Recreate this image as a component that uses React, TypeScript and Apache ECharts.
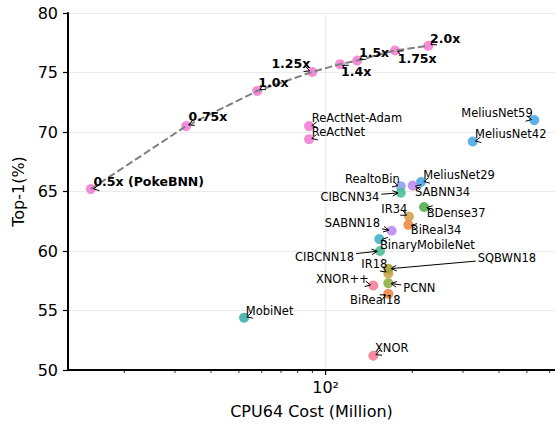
import React, { useEffect, useRef } from "react";
import * as echarts from "echarts";

// ---------------- data ----------------
const pokeLabels = ["0.5x (PokeBNN)", "0.75x", "1.0x", "1.25x", "1.4x", "1.5x", "1.75x", "2.0x"];
const pokeCost = [15.3, 32.8, 57.9, 89.9, 112.2, 128.8, 174.2, 227.3];
const pokeTop1 = [65.2, 70.5, 73.45, 75.05, 75.7, 76.0, 76.85, 77.25];

const otherNames = [
  "ReActNet-Adam", "ReActNet", "MeliusNet59", "MeliusNet42", "MeliusNet29", "RealtoBin",
  "SABNN34", "CIBCNN34", "BDense37", "IR34", "BiReal34", "SABNN18", "BinaryMobileNet",
  "CIBCNN18", "IR18", "SQBWN18", "XNOR++", "PCNN", "BiReal18", "XNOR", "MobiNet",
];
const otherCost = [
  87.6, 87.6, 530.6, 324.2, 214.5, 182.4,
  200.6, 182.4, 219.6, 194.8, 193.8, 169.6, 153.6,
  154.5, 165.1, 165.1, 146.4, 165.1, 165.1, 146.4, 52.1,
];
const otherTop1 = [
  70.5, 69.4, 71.0, 69.2, 65.8, 65.45,
  65.5, 64.9, 63.7, 62.9, 62.2, 61.7, 61.0,
  60.0, 58.1, 58.5, 57.1, 57.3, 56.4, 51.2, 54.4,
];

const yTicks = [50, 55, 60, 65, 70, 75, 80];
const xMajorTicks = [100];
const xMinorTicks = [20, 30, 40, 50, 60, 70, 80, 90, 200, 300, 400, 500, 600];

// ---------------- styles / layout ----------------
const pokeColor = "#f47fd6";
const otherColors = [
  "#f47fd6", "#f47fd6", "#4aa8e4", "#4aa8e4", "#4aa8e4", "#8ea0f0",
  "#bf8cf3", "#4dbd98", "#50b04f", "#d2a24e", "#ee8a45", "#bf8cf3", "#44b3c8",
  "#4dbd98", "#d2a24e", "#a8a23a", "#f47f96", "#8fb044", "#ee8a45", "#f47f96", "#3fb0aa",
];

type Lay = [number, number, "left" | "right" | "center"];
const pokeLayout: Lay[] = [
  [2.6, -8, "left"], [2.3, -9.4, "left"], [1, -8.4, "left"], [-2, -8.4, "right"],
  [1, 7.7, "left"], [1.7, -8.4, "left"], [2.7, 8, "left"], [1.7, -7.7, "left"],
];
const otherLayout: Lay[] = [
  [2.7, -7.7, "left"], [2.7, -7, "left"], [-1.6, -7.4, "right"], [2.3, -7.7, "left"],
  [2.3, -7.3, "left"], [-1, -6.7, "right"], [2.3, 6.7, "left"], [-21.4, 4, "right"],
  [2.7, 6, "left"], [-1.7, -7.4, "right"], [2.4, 5.3, "left"], [-11.7, -7.7, "right"],
  [0.7, 6, "left"], [-26, 6, "right"], [-1, -10, "right"], [89.4, -10.5, "left"],
  [-4.6, -6.4, "right"], [15, 4.4, "left"], [-13, 6, "center"], [1.7, -7.4, "left"],
  [1.7, -7, "left"],
];

const FONT = '"DejaVu Sans", sans-serif';

let measureCtx: CanvasRenderingContext2D | null = null;
function measure(text: string, font: string) {
  if (!measureCtx) measureCtx = document.createElement("canvas").getContext("2d");
  if (!measureCtx) return text.length * 7;
  measureCtx.font = font;
  return measureCtx.measureText(text).width;
}

function makeLabelRenderer(texts: string[], layouts: Lay[], bold: boolean) {
  const fs = bold ? 12.5 : 11.5;
  const font = `${bold ? "bold " : ""}${fs}px ${FONT}`;
  return (params: any, api: any) => {
    const i = api.value(2);
    const [dx, dy, align] = layouts[i];
    const text = texts[i];
    const p = api.coord([api.value(0), api.value(1)]);
    const w = measure(text, font);
    const h = fs * 1.17;
    const left = align === "left" ? p[0] + dx : align === "right" ? p[0] + dx - w : p[0] + dx - w / 2;
    const cy = p[1] + dy;
    const cx = left + w / 2;
    const pad = 2;
    const bx0 = left - pad, bx1 = left + w + pad, by0 = cy - h / 2 - pad, by1 = cy + h / 2 + pad;
    const vx = p[0] - cx, vy = p[1] - cy;
    let t = 1;
    if (vx > 0) t = Math.min(t, (bx1 - cx) / vx);
    else if (vx < 0) t = Math.min(t, (bx0 - cx) / vx);
    if (vy > 0) t = Math.min(t, (by1 - cy) / vy);
    else if (vy < 0) t = Math.min(t, (by0 - cy) / vy);
    const len = Math.hypot(vx, vy) || 1;
    const ux = vx / len, uy = vy / len;
    const shrink = 2.8;
    let sx = cx + vx * t, sy = cy + vy * t;
    const ex = p[0] - ux * shrink, ey = p[1] - uy * shrink;
    if (len * (1 - t) < shrink) { sx = ex; sy = ey; }
    const hl = 5.5, hw = 2.8;
    const nx = -uy, ny = ux;
    const h1 = [ex - ux * hl + nx * hw, ey - uy * hl + ny * hw];
    const h2 = [ex - ux * hl - nx * hw, ey - uy * hl - ny * hw];
    return {
      type: "group",
      children: [
        {
          type: "text",
          x: align === "left" ? left : align === "right" ? left + w : left + w / 2,
          y: cy,
          style: { text, font, fill: "#000", align, verticalAlign: "middle" },
        },
        { type: "line", shape: { x1: sx, y1: sy, x2: ex, y2: ey }, style: { stroke: "#000", lineWidth: 1 } },
        { type: "polyline", shape: { points: [h1, [ex, ey], h2] }, style: { stroke: "#000", lineWidth: 1, fill: null } },
      ],
    };
  };
}

export default function App() {
  const ref = useRef<HTMLDivElement>(null);
  useEffect(() => {
    if (!ref.current) return;
    const chart = echarts.init(ref.current, undefined, { renderer: "svg" });
    const yMin = yTicks[0], yMax = yTicks[yTicks.length - 1];
    const option: any = {
      animation: false,
      backgroundColor: "#fff",
      textStyle: { fontFamily: FONT },
      grid: { left: 68, right: 0, top: 13, bottom: 56, containLabel: false },
      xAxis: {
        type: "log",
        logBase: 10,
        min: 12.75,
        max: 626,
        name: "CPU64 Cost (Million)",
        nameLocation: "middle",
        nameGap: 33,
        nameTextStyle: { fontSize: 16, color: "#000", fontFamily: FONT },
        axisLine: { show: true, lineStyle: { color: "#000", width: 2 } },
        axisTick: { show: false },
        splitLine: { show: false },
        minorTick: { show: false },
        axisLabel: {
          fontSize: 16,
          color: "#000",
          margin: 9,
          fontFamily: FONT,
          showMinLabel: false,
          showMaxLabel: false,
          formatter: (v: number) => (Math.abs(Math.log10(v) - 2) < 1e-6 ? "10²" : ""),
        },
      },
      yAxis: {
        type: "value",
        min: yMin,
        max: yMax,
        interval: 5,
        name: "Top-1(%)",
        nameLocation: "middle",
        nameGap: 42,
        nameTextStyle: { fontSize: 16, color: "#000", fontFamily: FONT },
        axisLine: { show: true, lineStyle: { color: "#000", width: 2 } },
        axisTick: { show: true, length: 5, lineStyle: { color: "#000", width: 1.2 } },
        axisLabel: { fontSize: 16, color: "#000", margin: 10, fontFamily: FONT },
        splitLine: { show: true, lineStyle: { color: "#ebebeb", width: 1 } },
      },
      series: [
        {
          type: "custom",
          name: "xgrid",
          silent: true,
          z: 0,
          clip: false,
          data: xMajorTicks.map((v) => [v, yMin]),
          renderItem: (params: any, api: any) => {
            const a = api.coord([api.value(0), yMin]);
            const b = api.coord([api.value(0), yMax]);
            return {
              type: "group",
              children: [
                { type: "line", shape: { x1: a[0], y1: a[1], x2: b[0], y2: b[1] }, style: { stroke: "#ebebeb", lineWidth: 1 } },
                { type: "line", shape: { x1: a[0], y1: a[1], x2: a[0], y2: a[1] + 5 }, style: { stroke: "#000", lineWidth: 1.2 } },
              ],
            };
          },
        },
        {
          type: "custom",
          name: "xminor",
          silent: true,
          z: 3,
          clip: false,
          data: xMinorTicks.map((v) => [v, yMin]),
          renderItem: (params: any, api: any) => {
            const a = api.coord([api.value(0), yMin]);
            return { type: "line", shape: { x1: a[0], y1: a[1], x2: a[0], y2: a[1] + 3 }, style: { stroke: "#000", lineWidth: 0.8 } };
          },
        },
        {
          type: "scatter",
          name: "others",
          symbolSize: 10,
          z: 4,
          data: otherCost.map((c, i) => ({ value: [c, otherTop1[i]], itemStyle: { color: otherColors[i], opacity: 0.9 } })),
        },
        {
          type: "scatter",
          name: "PokeBNN",
          symbolSize: 10,
          z: 4,
          itemStyle: { color: pokeColor, opacity: 0.9 },
          data: pokeCost.map((c, i) => [c, pokeTop1[i]]),
        },
        {
          type: "line",
          name: "PokeBNN line",
          z: 5,
          symbol: "none",
          lineStyle: { color: "#808080", width: 2, type: [7.4, 3.2] },
          data: pokeCost.map((c, i) => [c, pokeTop1[i]]),
        },
        {
          type: "custom",
          name: "pokeLabels",
          silent: true,
          z: 6,
          clip: false,
          data: pokeCost.map((c, i) => [c, pokeTop1[i], i]),
          renderItem: makeLabelRenderer(pokeLabels, pokeLayout, true),
        },
        {
          type: "custom",
          name: "otherLabels",
          silent: true,
          z: 6,
          clip: false,
          data: otherCost.map((c, i) => [c, otherTop1[i], i]),
          renderItem: makeLabelRenderer(otherNames, otherLayout, false),
        },
      ],
    };
    chart.setOption(option);
    return () => chart.dispose();
  }, []);
  return <div ref={ref} style={{ position: "fixed", left: 0, top: 0, width: 555, height: 426, background: "#fff" }} />;
}
